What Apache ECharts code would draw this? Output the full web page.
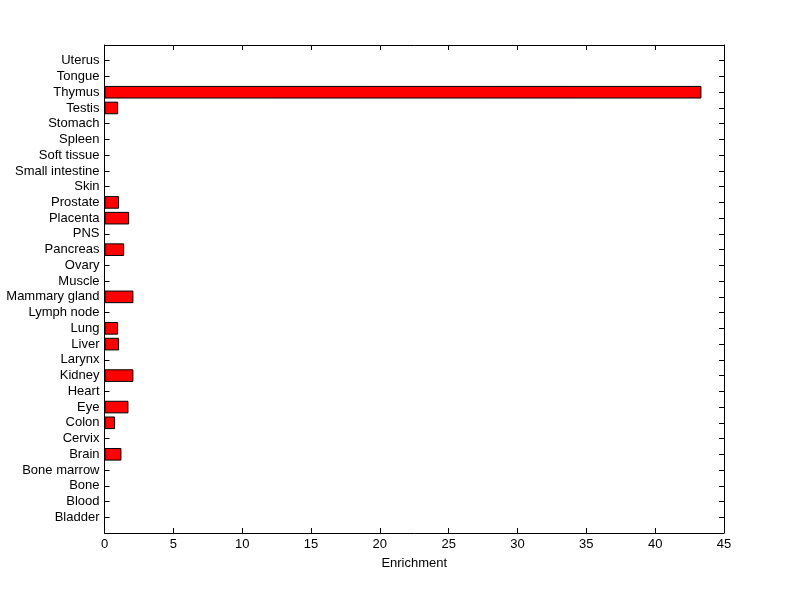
<!DOCTYPE html>
<html>
<head>
<meta charset="utf-8">
<script src="https://cdn.jsdelivr.net/npm/echarts@6/dist/echarts.min.js"></script>
<style>html,body{margin:0;padding:0;background:#fff}#c{width:800px;height:599px}</style>
</head>
<body>
<div id="c"></div>
<script>
const categories = ['Bladder','Blood','Bone','Bone marrow','Brain','Cervix','Colon','Eye','Heart','Kidney','Larynx','Liver','Lung','Lymph node','Mammary gland','Muscle','Ovary','Pancreas','PNS','Placenta','Prostate','Skin','Small intestine','Soft tissue','Spleen','Stomach','Testis','Thymus','Tongue','Uterus'];
const enrichment = [0,0,0,0,1.23,0,0.77,1.74,0,2.1,0,1.06,0.99,0,2.1,0,0,1.43,0,1.79,1.06,0,0,0,0,0,0.99,43.36,0,0];
const xTicks = [0,5,10,15,20,25,30,35,40,45];

const axisCats = [''].concat(categories, ['']);
const barData = [null].concat(enrichment.map(v => v === 0 ? null : v), [null]);

const font = 'Arial, "Liberation Sans", Helvetica, sans-serif';
const lineStyle = {color:'#000', width:1};
const axisLine = {show:true, onZero:false, lineStyle:lineStyle};
const tick = {show:true, inside:true, length:5, lineStyle:lineStyle, interval:0};
const chart = echarts.init(document.getElementById('c'), null, {renderer:'canvas'});
chart.setOption({
  animation:false,
  backgroundColor:'#fff',
  grid:{left:104.5, right:76, top:45, bottom:66, show:false},
  xAxis:[{
    type:'value', position:'bottom', min:xTicks[0], max:xTicks[xTicks.length-1], interval:5,
    name:'Enrichment', nameLocation:'middle', nameGap:24,
    nameTextStyle:{color:'#000', fontSize:13, fontFamily:font},
    axisLine:axisLine,
    axisTick:tick,
    axisLabel:{color:'#000', fontSize:13, fontFamily:font, margin:5},
    splitLine:{show:false}
  },{
    type:'value', position:'top', min:xTicks[0], max:xTicks[xTicks.length-1], interval:5,
    axisLine:axisLine,
    axisTick:tick,
    axisLabel:{show:false}, splitLine:{show:false}
  }],
  yAxis:[{
    type:'category', position:'left', data:axisCats, boundaryGap:false,
    axisLine:axisLine,
    axisTick:tick,
    axisLabel:{color:'#000', fontSize:13, fontFamily:font, margin:5, interval:0},
    splitLine:{show:false}
  },{
    type:'category', position:'right', data:axisCats, boundaryGap:false,
    axisLine:axisLine,
    axisTick:tick,
    axisLabel:{show:false}, splitLine:{show:false}
  }],
  series:[{
    type:'bar', xAxisIndex:0, yAxisIndex:0, data:barData, barWidth:'80%',
    itemStyle:{color:'#ff0000', borderColor:'#000', borderWidth:1}
  }]
});
</script>
</body>
</html>
